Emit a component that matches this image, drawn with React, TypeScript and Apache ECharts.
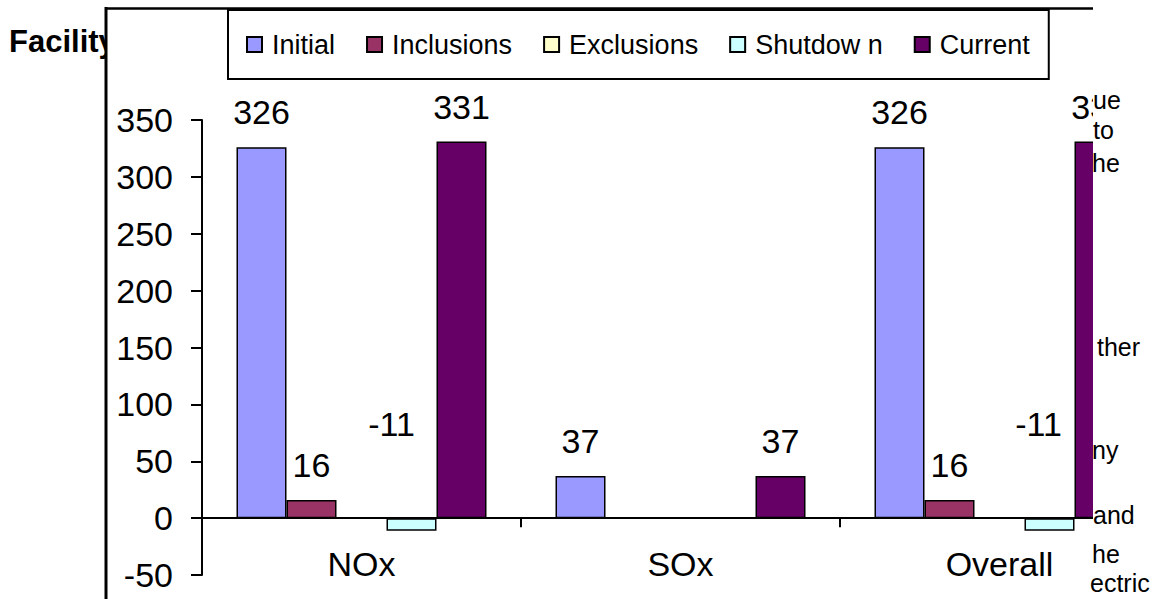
import { useEffect, useRef } from 'react';
import * as echarts from 'echarts';

// Emission totals by pollutant, split into the adjustment steps
const categories = ['NOx', 'SOx', 'Overall'];
const initial = [326, 37, 326];
const inclusions = [16, 0, 16];
const exclusions = [0, 0, 0];
const shutdown = [-11, 0, -11];
const current = [331, 37, 331];

const seriesNames = ['Initial', 'Inclusions', 'Exclusions', 'Shutdow n', 'Current'];
const seriesColors = ['#9999FF', '#993366', '#FFFFCC', '#CCFFFF', '#660066'];

const yMin = -50;
const yMax = 350;
const yStep = 50;

// Words of the surrounding document that show beside the chart frame
const sideWords = ['ue', 'to', 'he', 'ther', 'ny', 'and', 'he', 'ectric'];
const sideWordPos: [number, number][] = [
  [1093, 100], [1093, 130], [1092, 163], [1097, 347],
  [1092, 450], [1093, 515], [1092, 554], [1090, 583],
];

const FONT = '"Liberation Sans", Arial, Helvetica, sans-serif';

const GRID_TOP = 120;
const GRID_HEIGHT = 455;
// distance from the grid bottom up to the zero line, where the category axis sits
const ZERO_LIFT = (GRID_HEIGHT * (0 - yMin)) / (yMax - yMin);

function barSeries(
  name: string,
  values: number[],
  color: string,
  labelShift?: ([number, number] | null)[],
) {
  return {
    name,
    type: 'bar',
    z: 10,
    barWidth: 50,
    barGap: '0%',
    itemStyle: { color, borderColor: '#000', borderWidth: 1.5 },
    emphasis: { disabled: true },
    label: {
      show: true,
      position: 'top',
      distance: 18,
      fontSize: 34,
      fontFamily: FONT,
      color: '#000',
      formatter: (p: any) => (p.value === 0 ? '' : String(p.value)),
    },
    data: values.map((v, i) =>
      labelShift && labelShift[i] ? { value: v, label: { offset: labelShift[i] } } : v,
    ),
  };
}

export default function App() {
  const ref = useRef<HTMLDivElement>(null);

  useEffect(() => {
    if (!ref.current) return;
    const chart = echarts.init(ref.current, null, { renderer: 'svg' });

    const series = [
      barSeries(seriesNames[0], initial, seriesColors[0]),
      barSeries(seriesNames[1], inclusions, seriesColors[1]),
      barSeries(seriesNames[2], exclusions, seriesColors[2]),
      barSeries(seriesNames[3], shutdown, seriesColors[3], [[-20, -59], null, [-11, -59]]),
      barSeries(seriesNames[4], current, seriesColors[4]),
    ];

    const graphic: any[] = [
      {
        type: 'text',
        z: 0,
        style: {
          x: 9,
          y: 41.5,
          text: 'Facility',
          font: `bold 31px ${FONT}`,
          fill: '#000',
          textVerticalAlign: 'middle',
        },
      },
      {
        type: 'rect',
        z: 1,
        shape: { x: 106, y: 9, width: 987, height: 590 },
        style: { fill: '#fff' },
      },
      {
        type: 'line',
        z: 2,
        shape: { x1: 106, y1: 7, x2: 106, y2: 599 },
        style: { stroke: '#000', lineWidth: 3 },
      },
      {
        type: 'line',
        z: 2,
        shape: { x1: 105, y1: 8.5, x2: 1093, y2: 8.5 },
        style: { stroke: '#000', lineWidth: 2.5 },
      },
      {
        type: 'rect',
        z: 50,
        shape: { x: 1093, y: 0, width: 67, height: 599 },
        style: { fill: '#fff' },
      },
      ...sideWords.map((w, i) => ({
        type: 'text',
        z: 51,
        style: {
          x: sideWordPos[i][0],
          y: sideWordPos[i][1],
          text: w,
          font: `25px ${FONT}`,
          fill: '#000',
          textVerticalAlign: 'middle',
        },
      })),
    ];

    chart.setOption({
      animation: false,
      backgroundColor: '#fff',
      textStyle: { fontFamily: FONT },
      legend: {
        z: 10,
        left: 228,
        top: 10,
        data: seriesNames,
        icon: 'rect',
        itemWidth: 15,
        itemHeight: 15,
        itemGap: 31,
        padding: [21, 19, 21, 18],
        backgroundColor: '#fff',
        borderColor: '#000',
        borderWidth: 2,
        borderRadius: 0,
        itemStyle: { borderColor: '#000', borderWidth: 2 },
        textStyle: { fontSize: 27, color: '#000', fontFamily: FONT, padding: [0, 0, 0, 5] },
        selectedMode: false,
      },
      grid: {
        left: 202,
        top: GRID_TOP,
        width: 957,
        height: GRID_HEIGHT,
        containLabel: false,
        outerBoundsMode: 'none',
      },
      xAxis: {
        type: 'category',
        data: categories,
        z: 10,
        position: 'bottom',
        offset: -ZERO_LIFT,
        axisLine: { onZero: false, lineStyle: { color: '#000', width: 2 } },
        axisTick: { show: true, length: 9, lineStyle: { color: '#000', width: 2 } },
        axisLabel: { fontSize: 34, color: '#000', margin: 29, fontFamily: FONT },
        splitLine: { show: false },
      },
      yAxis: {
        type: 'value',
        min: yMin,
        max: yMax,
        interval: yStep,
        z: 10,
        axisLine: { show: true, lineStyle: { color: '#000', width: 2 } },
        axisTick: { show: true, length: 11, lineStyle: { color: '#000', width: 2 } },
        axisLabel: { fontSize: 34, color: '#000', margin: 29, fontFamily: FONT },
        splitLine: { show: false },
      },
      series,
      graphic,
    });

    return () => chart.dispose();
  }, []);

  return (
    <div
      ref={ref}
      style={{ position: 'fixed', left: 0, top: 0, width: 1160, height: 599, background: '#fff' }}
    />
  );
}
